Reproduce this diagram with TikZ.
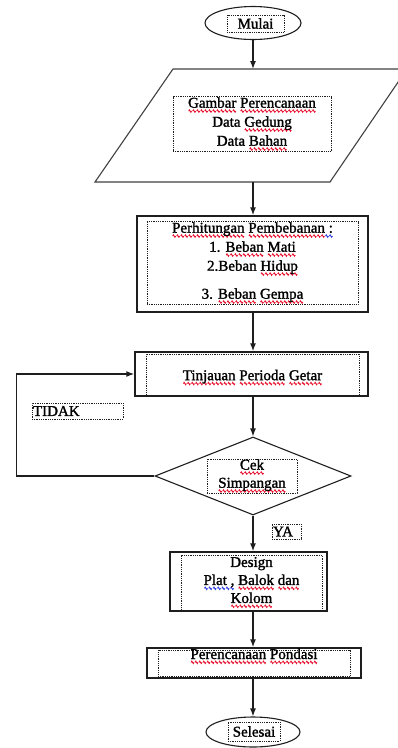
\documentclass[tikz,border=0pt]{standalone}
\usepackage{fontspec}
\setmainfont{Liberation Serif}[FakeBold=1.5]
\usetikzlibrary{arrows.meta,shapes.geometric}
\definecolor{ink}{HTML}{1E1E1E}
\definecolor{spellred}{HTML}{E8112D}
\definecolor{spellblue}{HTML}{2B3BE0}
% wavy marks under words, as the spell checker drew them
\newsavebox\spellbox
\newcommand\wavemark[1]{\tikz\draw[#1, line width=0.9pt]
  (0pt,0pt) -- (0.75pt,1.2pt) -- (1.5pt,0pt) -- (2.25pt,-1.2pt) -- (3pt,0pt);}
\newcommand\wavewith[2]{\leavevmode\sbox\spellbox{#2}%
  \rlap{\raisebox{-5pt}{\hbox to \wd\spellbox{\xleaders\hbox{\wavemark{#1}}\hfil}}}%
  \usebox\spellbox}
\newcommand\spell[1]{\wavewith{spellred}{#1}}
\newcommand\gram[1]{\wavewith{spellblue}{#1}}
\tikzset{
  box/.style={draw=ink, line width=1.4pt, rectangle, inner sep=0pt},
  term/.style={draw=ink, line width=1.1pt, ellipse, inner sep=0pt},
  io/.style={draw=ink!85, line width=1.1pt, line join=miter},
  cond/.style={draw=ink, line width=1.1pt, diamond, inner sep=0pt},
  tbox/.style={draw=ink, densely dotted, line width=0.8pt, inner sep=0pt,
    font=\fontsize{15}{19}\selectfont, align=center},
  flow/.style={draw=ink, line width=1.3pt, -{Latex[length=8pt,width=6pt]}},
}
\begin{document}
\begin{tikzpicture}[x=1pt,y=-1pt]
  \useasboundingbox (0,0) rectangle (398,748);
  \clip (0,0) rectangle (398,748);
  % shapes
  \node[term, minimum width=96pt, minimum height=33pt] (mulai) at (253,23) {};
  \node[tbox, minimum width=57pt, minimum height=17pt] (mulai-t) at (255.5,23.5) {Mulai};
  \draw[io] (173,69) -- (407,69) -- (330,182) -- (95,182) -- cycle;
  \coordinate (gambar-n) at (253,69);
  \coordinate (gambar-s) at (253,182);
  \node[tbox, minimum width=158pt, minimum height=55pt] (gambar-t) at (252,124)
    {\spell{Gambar} \spell{Perencanaan}\\Data \spell{Gedung}\\Data \spell{Bahan}};
  \node[box, minimum width=231pt, minimum height=96pt] (hitung) at (252.5,264) {};
  \node[tbox, minimum width=211pt, minimum height=83pt] (hitung-t) at (252.5,263)
    {\spell{Perhitungan} \spell{Pembebanan}\gram{ :}\\1. \spell{Beban} \spell{Mati}\\
     2.Beban \spell{Hidup}\\[9pt]3. \spell{Beban} \spell{Gempa}};
  \node[box, minimum width=233pt, minimum height=44pt] (tinjau) at (251.5,374) {};
  \node[tbox, minimum width=213pt, minimum height=42pt, text depth=0pt] (tinjau-t) at (252.5,375)
    {\spell{Tinjauan} \spell{Perioda} \spell{Getar}};
  \node[cond, minimum width=196pt, minimum height=78pt] (cek) at (253,476) {};
  \node[tbox, minimum width=90pt, minimum height=34pt, font=\fontsize{15}{18}\selectfont]
    (cek-t) at (252,476) {\spell{Cek}\\\spell{Simpangan}};
  \node[box, minimum width=157pt, minimum height=59pt] (design) at (248.5,581.5) {};
  \node[tbox, minimum width=141pt, minimum height=55pt, font=\fontsize{15}{18}\selectfont]
    (design-t) at (251.5,582.5) {Design\\\gram{Plat ,} \spell{Balok} \spell{dan}\\\spell{Kolom}};
  \node[box, minimum width=214pt, minimum height=30pt] (pondasi) at (254,663) {};
  \node[tbox, minimum width=192pt, minimum height=26pt] (pondasi-t) at (254,663)
    {\smash{\raisebox{4pt}{\spell{Perencanaan} \spell{Pondasi}}}};
  \node[term, minimum width=94pt, minimum height=30pt] (selesai) at (253,732) {};
  \node[tbox, minimum width=52pt, minimum height=19pt] (selesai-t) at (254,731.5) {Selesai};
  % labels of the branches
  \node[tbox, minimum width=91pt, minimum height=16pt, text width=89pt, align=left]
    (tidak) at (77.5,411) {TIDAK};
  \node[tbox, minimum width=29pt, minimum height=15pt, text width=27pt, align=left]
    (ya) at (286.5,531.5) {YA};
  % connectors
  \draw[flow] (mulai.south) -- (gambar-n);
  \draw[flow] (gambar-s) -- (hitung.north -| mulai);
  \draw[flow] (hitung.south -| mulai) -- (tinjau.north -| mulai);
  \draw[flow] (tinjau.south -| mulai) -- (cek.north);
  \draw[flow] (cek.south) -- (design.north -| mulai);
  \draw[flow] (design.south -| mulai) -- (pondasi.north -| mulai);
  \draw[flow] (pondasi.south -| mulai) -- (selesai.north);
  \draw[flow] (cek.west) -- ++(-138,0) |- (tinjau.west);
\end{tikzpicture}
\end{document}
